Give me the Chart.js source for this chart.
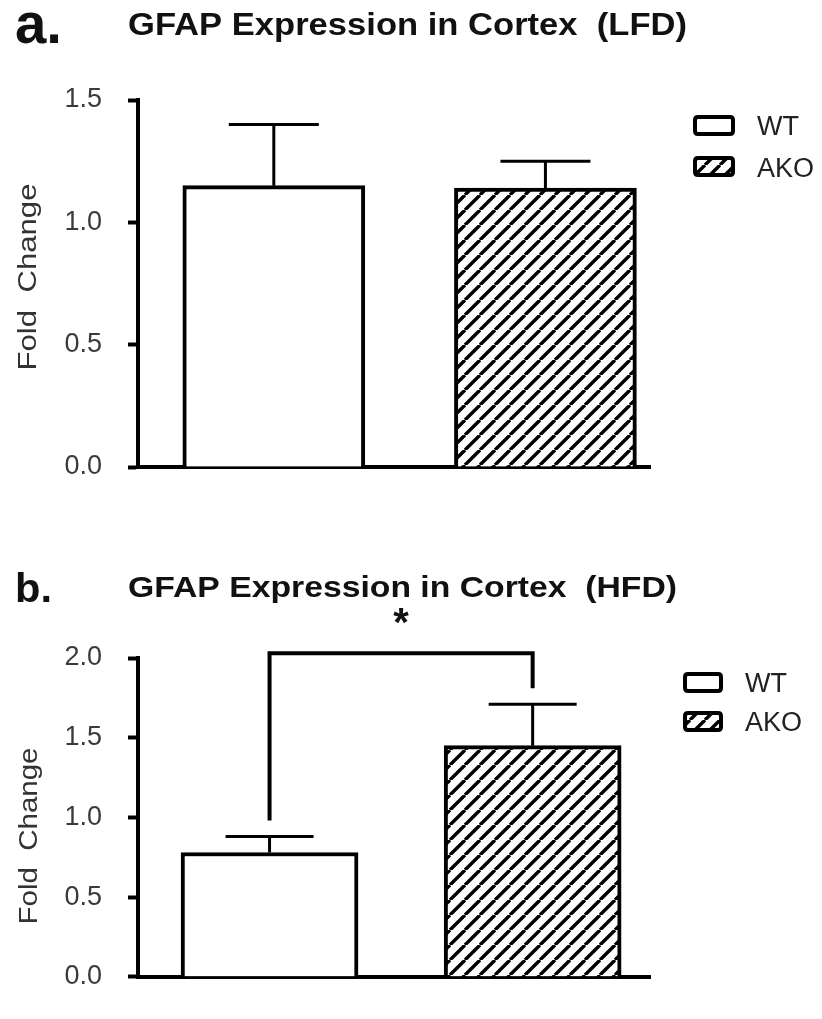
<!DOCTYPE html>
<html><head><meta charset="utf-8">
<script src="https://cdn.jsdelivr.net/npm/chart.js@4.4.1/dist/chart.umd.min.js"></script>
<style>
html,body{margin:0;padding:0;background:#fff;}
#wrap{position:relative;width:822px;height:1019px;overflow:hidden;background:#fff;}
canvas{position:absolute;left:0;top:0;}
</style></head><body>
<div id="wrap"><canvas id="cA" width="822" height="1019"></canvas><canvas id="cB" width="822" height="1019"></canvas></div>
<script>
// ---- data ----
const CATEGORIES = ['WT', 'AKO'];
const LFD_MEAN = [1.15, 1.14];
const LFD_SEM = [0.25, 0.11];
const HFD_MEAN = [0.78, 1.45];
const HFD_SEM = [0.10, 0.26];
const LFD_TICKS = [0, 0.5, 1.0, 1.5];
const HFD_TICKS = [0, 0.5, 1.0, 1.5, 2.0];
const HFD_SIG = { from: 0, to: 1, top: 2.03, leftEnd: 0.98, rightEnd: 1.81, label: '*' };
const TITLES = ['GFAP Expression in Cortex  (LFD)', 'GFAP Expression in Cortex  (HFD)'];
const PANEL_LABELS = ['a.', 'b.'];
const Y_TITLE = 'Fold  Change';

const FONT = '"Liberation Sans", Arial, Helvetica, sans-serif';

function makeHatch() {
  const p = 15, c = document.createElement('canvas');
  c.width = p; c.height = p;
  const g = c.getContext('2d');
  g.fillStyle = '#fff'; g.fillRect(0, 0, p, p);
  g.strokeStyle = '#000'; g.lineWidth = 3.4;
  g.beginPath();
  for (let k = -1; k <= 1; k++) { g.moveTo(k * p, p); g.lineTo(k * p + p, 0); }
  g.stroke();
  return document.createElement('canvas').getContext('2d').createPattern(c, 'repeat');
}
const HATCH = makeHatch();

function txt(ctx, s, x, y, o) {
  ctx.save();
  ctx.font = `${o.weight || 'normal'} ${o.size}px ${FONT}`;
  ctx.fillStyle = o.color || '#000';
  ctx.textBaseline = o.baseline || 'alphabetic';
  ctx.textAlign = o.align || 'left';
  const w = ctx.measureText(s).width;
  const sx = o.width ? o.width / w : 1;
  ctx.translate(x, y);
  if (o.rotate) ctx.rotate(o.rotate);
  ctx.scale(sx, o.sy || 1);
  ctx.fillText(s, 0, 0);
  ctx.restore();
}

function rrect(ctx, x, y, w, h, r) {
  ctx.beginPath();
  ctx.moveTo(x + r, y); ctx.lineTo(x + w - r, y); ctx.quadraticCurveTo(x + w, y, x + w, y + r);
  ctx.lineTo(x + w, y + h - r); ctx.quadraticCurveTo(x + w, y + h, x + w - r, y + h);
  ctx.lineTo(x + r, y + h); ctx.quadraticCurveTo(x, y + h, x, y + h - r);
  ctx.lineTo(x, y + r); ctx.quadraticCurveTo(x, y, x + r, y); ctx.closePath();
}

function panelPlugin(cfg) {
  return {
    id: 'ann' + cfg.key,
    afterDatasetsDraw(chart) {
      const xs = chart.scales.x, ys = chart.scales.y, ctx = chart.ctx;
      ctx.save();
      ctx.strokeStyle = '#000'; ctx.lineWidth = 3; ctx.lineCap = 'butt';
      cfg.mean.forEach((m, i) => {
        const x = xs.getPixelForValue(i + 1);
        const y0 = ys.getPixelForValue(m);
        const y1 = ys.getPixelForValue(m + cfg.sem[i]);
        ctx.beginPath();
        ctx.moveTo(x, y0); ctx.lineTo(x, y1);
        ctx.moveTo(x - cfg.capW / 2, y1); ctx.lineTo(x + cfg.capW / 2, y1);
        ctx.stroke();
      });
      if (cfg.sig) {
        const s = cfg.sig;
        const xl = xs.getPixelForValue(s.from + 1), xr = xs.getPixelForValue(s.to + 1);
        const yt = ys.getPixelForValue(s.top);
        ctx.lineWidth = 4; ctx.lineJoin = 'miter';
        ctx.beginPath();
        ctx.moveTo(xl, ys.getPixelForValue(s.leftEnd));
        ctx.lineTo(xl, yt); ctx.lineTo(xr, yt);
        ctx.lineTo(xr, ys.getPixelForValue(s.rightEnd));
        ctx.stroke();
        txt(ctx, s.label, (xl + xr) / 2, yt - 17, { size: 40, weight: 'bold', align: 'center', color: '#111' });
      }
      ctx.restore();
    },
    afterDraw(chart) {
      const ctx = chart.ctx;
      txt(ctx, PANEL_LABELS[cfg.key], 15, cfg.labelBase, { size: cfg.labelSize, weight: 'bold', width: cfg.labelW, color: '#111' });
      txt(ctx, TITLES[cfg.key], 128, cfg.titleBase, { size: cfg.titleSize, weight: 'bold', width: cfg.titleW, color: '#111' });
      txt(ctx, Y_TITLE, cfg.yTitleX, cfg.yTitleY, { size: 25, rotate: -Math.PI / 2, align: 'center', width: cfg.yTitleLen, color: '#333' });
      CATEGORIES.forEach((c, i) => {
        ctx.save();
        ctx.lineWidth = 4; ctx.strokeStyle = '#000';
        rrect(ctx, cfg.legX + 2, cfg.legY[i] + 2, cfg.legW - 4, cfg.legH - 4, 3);
        ctx.fillStyle = i === 0 ? '#fff' : HATCH;
        ctx.fill(); ctx.stroke();
        ctx.restore();
        txt(ctx, c, cfg.legTextX, cfg.legBase[i], { size: 27, color: '#222' });
      });
    }
  };
}

function makePanel(id, cfg) {
  return new Chart(document.getElementById(id), {
    type: 'bar',
    data: {
      labels: CATEGORIES,
      datasets: [{
        label: TITLES[cfg.key],
        data: cfg.mean.map((v, i) => ({ x: i + 1, y: v })),
        backgroundColor: ['#fff', HATCH],
        borderColor: '#000',
        borderWidth: 4,
        borderSkipped: 'bottom',
        barThickness: cfg.barW
      }]
    },
    options: {
      responsive: false, animation: false, events: [], devicePixelRatio: 1,
      layout: { padding: { left: 0, right: 822 - 650, top: cfg.top, bottom: 1019 - cfg.bottom - 3 } },
      plugins: { legend: { display: false }, tooltip: { enabled: false }, title: { display: false } },
      scales: {
        x: {
          type: 'linear', min: 0.5, max: cfg.xMax, offset: false,
          grid: { display: false }, ticks: { display: false },
          border: { display: true, color: '#000', width: 4 },
          afterFit: s => { s.height = 3; }
        },
        y: {
          min: 0, max: cfg.yMax,
          afterBuildTicks: s => { s.ticks = cfg.ticks.map(v => ({ value: v })); },
          ticks: { callback: v => Number(v).toFixed(1), font: { size: 27, family: FONT }, color: '#3a3a3a', padding: 26 },
          grid: { display: true, drawOnChartArea: false, drawTicks: true, tickLength: 10, tickWidth: 4, tickColor: '#000', color: '#000' },
          border: { display: true, color: '#000', width: 4 },
          afterFit: s => { s.width = 138; }
        }
      }
    },
    plugins: [panelPlugin(cfg)]
  });
}

makePanel('cA', {
  key: 0, mean: LFD_MEAN, sem: LFD_SEM, ticks: LFD_TICKS, yMax: 1.5, xMax: 2.385,
  top: 100, bottom: 467, barW: 182, capW: 90,
  labelBase: 43, labelSize: 57, labelW: 47, titleBase: 35, titleSize: 32, titleW: 559,
  legX: 693, legY: [115, 156], legW: 42, legH: 21, legTextX: 757, legBase: [135, 177],
  yTitleX: 36, yTitleY: 277, yTitleLen: 187
});
makePanel('cB', {
  key: 1, mean: HFD_MEAN, sem: HFD_SEM, ticks: HFD_TICKS, yMax: 2.0, xMax: 2.446,
  top: 658, bottom: 1000, barW: 177, capW: 88, sig: HFD_SIG,
  labelBase: 602, labelSize: 41, labelW: 37, titleBase: 597, titleSize: 30, titleW: 549,
  legX: 683, legY: [672, 711], legW: 40, legH: 21, legTextX: 745, legBase: [692, 731],
  yTitleX: 37, yTitleY: 836, yTitleLen: 177
});
</script>
</body></html>
